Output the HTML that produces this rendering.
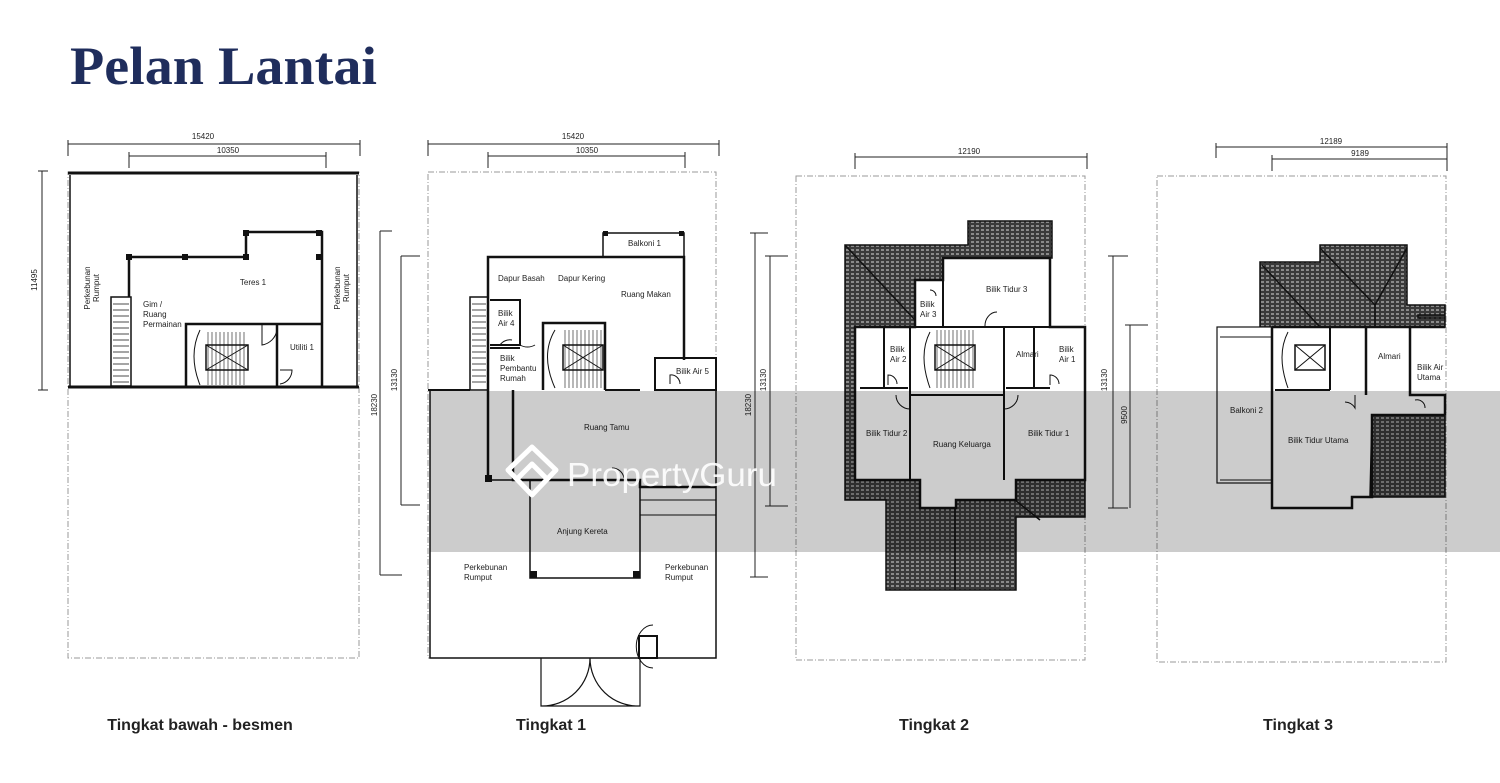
<!DOCTYPE html>
<html><head><meta charset="utf-8"><style>
html,body{margin:0;padding:0;background:#fff;width:1500px;height:783px;overflow:hidden}
svg{display:block}
.t{font-family:"Liberation Sans",sans-serif;font-size:8px;fill:#222}
.d{font-family:"Liberation Sans",sans-serif;font-size:8px;fill:#222}
.L{font-family:"Liberation Sans",sans-serif;font-size:16px;font-weight:bold;fill:#222}
</style></head><body>
<svg width="1500" height="783" viewBox="0 0 1500 783" xmlns="http://www.w3.org/2000/svg">
<defs>
<pattern id="h" width="5" height="4" patternUnits="userSpaceOnUse">
<rect width="5" height="4" fill="#3a3a3a"/><rect x="1" y="1" width="3" height="2" fill="#8a8a8a"/>
</pattern>
</defs>
<text x="70" y="84" font-family="Liberation Serif,serif" font-size="54" font-weight="bold" fill="#1f2d5c" textLength="307" lengthAdjust="spacingAndGlyphs">Pelan Lantai</text>

<g stroke="#222" fill="none" stroke-width="1">
<path d="M68 144H360M68 140V156M360 140V156M129 156H326M129 152V168M326 152V168M42 171V390M38 171H48M38 390H48"/>
<path d="M428 144H719M428 140V156M719 140V156M488 156H685M488 152V168M685 152V168"/>
<path d="M380 231V575M380 231H392M380 575H402M401 256V505M401 256H420M401 505H420"/>
<path d="M855 157H1087M855 153V169M1087 153V169M755 233V577M750 233H768M750 577H768M770 256V506M765 256H788M765 506H788"/>
<path d="M1216 147H1447M1216 143V158M1447 143V159M1272 159H1447M1272 155V171M1447 155V171M1113 256V508M1108 256H1128M1108 508H1128M1130 325V508M1125 325H1148"/>
</g>
<g class="d">
<text x="203" y="139" text-anchor="middle">15420</text><text x="228" y="153" text-anchor="middle">10350</text>
<text x="573" y="139" text-anchor="middle">15420</text><text x="587" y="153" text-anchor="middle">10350</text>
<text x="969" y="154" text-anchor="middle">12190</text>
<text x="1331" y="144" text-anchor="middle">12189</text><text x="1360" y="156" text-anchor="middle">9189</text>
<text transform="translate(37,280) rotate(-90)" text-anchor="middle">11495</text>
<text transform="translate(377,405) rotate(-90)" text-anchor="middle">18230</text>
<text transform="translate(397,380) rotate(-90)" text-anchor="middle">13130</text>
<text transform="translate(751,405) rotate(-90)" text-anchor="middle">18230</text>
<text transform="translate(766,380) rotate(-90)" text-anchor="middle">13130</text>
<text transform="translate(1107,380) rotate(-90)" text-anchor="middle">13130</text>
<text transform="translate(1127,415) rotate(-90)" text-anchor="middle">9500</text>
</g>

<g stroke="#999" fill="none" stroke-dasharray="6,2,1,2" stroke-width="1">
<rect x="68" y="172" width="291" height="486"/>
<rect x="428" y="172" width="288" height="486"/>
<rect x="796" y="176" width="289" height="484"/>
<rect x="1157" y="176" width="289" height="486"/>
</g>

<!-- PLAN 1 -->
<g stroke="#111" fill="none">
<path d="M68 173H359" stroke-width="3"/><path d="M68 387H359" stroke-width="3"/>
<path d="M70 175V387M357 175V387" stroke-width="1.5"/>
<path d="M129 297V257H246V232H322V323" stroke-width="2.5"/>
<rect x="111" y="297" width="20" height="89" stroke-width="1.5"/>
<path d="M113 304H129M113 310H129M113 316H129M113 322H129M113 328H129M113 334H129M113 340H129M113 346H129M113 352H129M113 358H129M113 364H129M113 370H129M113 376H129M113 382H129" stroke-width="0.8"/>
<path d="M186 387V324H322V387" stroke-width="2.5"/>
<path d="M277 324V387" stroke-width="2.5"/>
<rect x="206" y="345" width="42" height="25" stroke-width="1.5"/><path d="M206 345L248 370M248 345L206 370"/>
<path d="M208 332V385M212 332V385M216 332V385M220 332V385M224 332V385M228 332V385M232 332V385M236 332V385M240 332V385M244 332V385" stroke-width="0.6"/>
<path d="M200 330Q188 355 200 385"/>
<path d="M262 325V345A18 18 0 0 0 277 330M280 370H292A14 14 0 0 1 280 384"/>
</g>
<g fill="#111"><rect x="126" y="254" width="6" height="6"/><rect x="182" y="254" width="6" height="6"/><rect x="243" y="254" width="6" height="6"/><rect x="243" y="230" width="6" height="6"/><rect x="316" y="230" width="6" height="6"/><rect x="316" y="254" width="6" height="6"/></g>
<g class="t">
<text x="253" y="285" text-anchor="middle">Teres 1</text>
<text x="143" y="307">Gim /</text><text x="143" y="317">Ruang</text><text x="143" y="327">Permainan</text>
<text x="290" y="350">Utiliti 1</text>
<text transform="translate(90,288) rotate(-90)" text-anchor="middle">Perkebunan</text><text transform="translate(99,288) rotate(-90)" text-anchor="middle">Rumput</text>
<text transform="translate(340,288) rotate(-90)" text-anchor="middle">Perkebunan</text><text transform="translate(349,288) rotate(-90)" text-anchor="middle">Rumput</text>
</g>

<!-- PLAN 2 -->
<g stroke="#111" fill="none">
<path d="M430 390V658H716V390" stroke-width="1.5"/>
<path d="M428 390H470M605 390H640" stroke-width="2"/>
<rect x="603" y="233" width="81" height="24" stroke-width="1.5"/>
<path d="M488 480V257H684V360" stroke-width="2.5"/>
<rect x="655" y="358" width="61" height="32" stroke-width="2"/>
<rect x="470" y="297" width="18" height="93" stroke-width="1.5"/>
<path d="M472 304H486M472 310H486M472 316H486M472 322H486M472 328H486M472 334H486M472 340H486M472 346H486M472 352H486M472 358H486M472 364H486M472 370H486M472 376H486M472 382H486" stroke-width="0.8"/>
<path d="M490 300H520V345H490M490 348H520" stroke-width="2"/>
<path d="M543 390V323H605V390" stroke-width="2.5"/>
<rect x="563" y="345" width="40" height="25" stroke-width="1.5"/><path d="M563 345L603 370M603 345L563 370"/>
<path d="M565 330V388M569 330V388M573 330V388M577 330V388M581 330V388M585 330V388M589 330V388M593 330V388M597 330V388M601 330V388" stroke-width="0.6"/>
<path d="M555 330Q540 355 555 388"/>
<path d="M520 330V345A15 15 0 0 0 535 345M512 340A12 12 0 0 0 500 345M670 384V375A9 9 0 0 1 680 384"/>
<path d="M513 390V480H640V487H716" stroke-width="2.5"/>
<path d="M488 480H513" stroke-width="1.5"/>
<path d="M640 500H716M640 515H716" stroke-width="1"/>
<path d="M530 480V578H640V487" stroke-width="1.5"/>
<path d="M624 478A12 12 0 0 0 612 468" stroke-width="1"/>
<path d="M541 658V706H640V658M590 658A48 48 0 0 1 541 706M590 658A48 48 0 0 0 640 706" stroke-width="1.2"/>
<rect x="639" y="636" width="18" height="22" stroke-width="2"/>
<path d="M653 625A14 18 0 0 0 653 668" stroke-width="1"/>
</g>
<g fill="#111"><rect x="485" y="475" width="7" height="7"/><rect x="530" y="571" width="7" height="7"/><rect x="633" y="571" width="7" height="7"/><rect x="603" y="231" width="5" height="5"/><rect x="679" y="231" width="5" height="5"/></g>
<g class="t">
<text x="628" y="246">Balkoni 1</text>
<text x="498" y="281">Dapur Basah</text><text x="558" y="281">Dapur Kering</text>
<text x="621" y="297">Ruang Makan</text>
<text x="498" y="316">Bilik</text><text x="498" y="326">Air 4</text>
<text x="500" y="361">Bilik</text><text x="500" y="371">Pembantu</text><text x="500" y="381">Rumah</text>
<text x="676" y="374">Bilik Air 5</text>
<text x="584" y="430">Ruang Tamu</text>
<text x="557" y="534">Anjung Kereta</text>
<text x="464" y="570">Perkebunan</text><text x="464" y="580">Rumput</text>
<text x="665" y="570">Perkebunan</text><text x="665" y="580">Rumput</text>
</g>

<!-- PLAN 3 -->
<g stroke="#111" stroke-width="1.5">
<path fill="url(#h)" d="M845 245H968V221H1052V258H1050V327H1085V517H1016V590H886V500H845Z"/>
<path fill="#fff" stroke-width="2.5" d="M915 327V280H943V258H1050V327H1085V480H1016V500H956V508H920V480H855V327Z"/>
<path fill="none" d="M845 245L915 320M1015 500L1040 520M955 508V590"/>
</g>
<g stroke="#111" fill="none" stroke-width="2">
<path d="M943 280V327M910 327V480M1004 327V480M1034 327V388M884 327V388M860 388H908M1006 388H1050M910 395H1004M855 327H1085"/>
<rect x="935" y="345" width="40" height="25" stroke-width="1.5"/><path d="M935 345L975 370M975 345L935 370" stroke-width="1"/>
<path d="M937 330V388M941 330V388M945 330V388M949 330V388M953 330V388M957 330V388M961 330V388M965 330V388M969 330V388M973 330V388" stroke-width="0.6"/>
<path d="M930 332Q918 355 930 388" stroke-width="1"/>
<path d="M985 327A12 14 0 0 1 997 312M896 395A14 14 0 0 0 910 409M1004 409A14 14 0 0 0 1018 395M888 385V375A9 9 0 0 1 897 384M1050 385V375A9 9 0 0 1 1059 384M930 290A6 6 0 0 1 936 296" stroke-width="1"/>
</g>
<g class="t">
<text x="986" y="292">Bilik Tidur 3</text>
<text x="920" y="307">Bilik</text><text x="920" y="317">Air 3</text>
<text x="890" y="352">Bilik</text><text x="890" y="362">Air 2</text>
<text x="1016" y="357">Almari</text>
<text x="1059" y="352">Bilik</text><text x="1059" y="362">Air 1</text>
<text x="866" y="436">Bilik Tidur 2</text>
<text x="933" y="447">Ruang Keluarga</text>
<text x="1028" y="436">Bilik Tidur 1</text>
</g>

<!-- PLAN 4 -->
<g stroke="#111" stroke-width="1.5">
<path fill="url(#h)" d="M1260 278V327H1445V315H1418V318H1445V305H1407V245H1320V262H1260Z"/>
<path fill="url(#h)" d="M1372 415H1445V497H1370Z"/>
<path fill="none" d="M1262 265L1320 327M1320 248L1375 305V327M1407 248L1375 305"/>
<rect x="1217" y="327" width="55" height="156" fill="#fff" stroke-width="1.2"/>
<path fill="none" d="M1220 337H1272M1220 480H1272" stroke-width="1"/>
<path fill="none" stroke-width="2.5" d="M1272 327H1445M1272 327V508H1352V497H1372V415H1445M1366 327V395M1410 327V395H1445V415"/>
<path fill="none" stroke-width="2" d="M1330 327V390M1275 390H1330"/>
<rect x="1295" y="345" width="30" height="25" fill="none"/><path fill="none" d="M1295 345L1325 370M1325 345L1295 370" stroke-width="1"/>
<path fill="none" d="M1288 332Q1276 355 1288 388M1355 395V408A12 12 0 0 0 1345 402M1415 400A8 8 0 0 1 1425 408" stroke-width="1"/>
</g>
<g class="t">
<text x="1378" y="359">Almari</text>
<text x="1417" y="370">Bilik Air</text><text x="1417" y="380">Utama</text>
<text x="1230" y="413">Balkoni 2</text>
<text x="1288" y="443">Bilik Tidur Utama</text>
</g>

<rect x="430" y="391" width="1070" height="161" fill="#000" fill-opacity="0.2"/>
<g stroke="#fff" stroke-width="5" fill="none" stroke-linejoin="round">
<path d="M508 470L532 447L556 470L532 495Z"/>
<path d="M516 480L532 464L548 480"/>
</g>
<text x="567" y="486" font-family="Liberation Sans,sans-serif" font-size="33" fill="#fff" fill-opacity="0.9" textLength="210" lengthAdjust="spacingAndGlyphs">PropertyGuru</text>

<text class="L" x="200" y="730" text-anchor="middle">Tingkat bawah - besmen</text>
<text class="L" x="551" y="730" text-anchor="middle">Tingkat 1</text>
<text class="L" x="934" y="730" text-anchor="middle">Tingkat 2</text>
<text class="L" x="1298" y="730" text-anchor="middle">Tingkat 3</text>
</svg>
</body></html>
